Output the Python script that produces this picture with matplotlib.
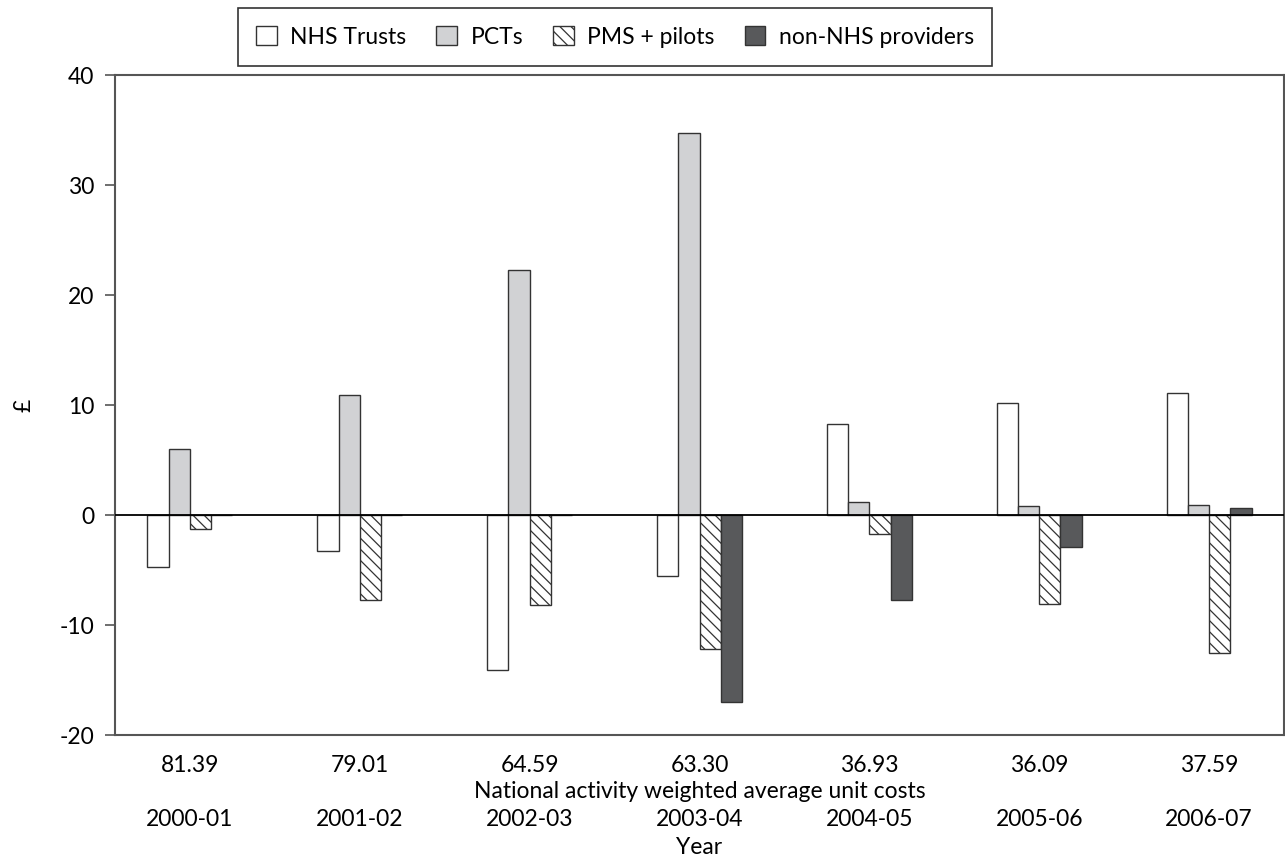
import numpy as np
import matplotlib
matplotlib.use("Agg")
import matplotlib.pyplot as plt
from matplotlib.transforms import blended_transform_factory

plt.rcParams['font.family'] = ['Lato', 'DejaVu Sans']
plt.rcParams['hatch.linewidth'] = 0.9
plt.rcParams['axes.unicode_minus'] = False

years = ["2000-01", "2001-02", "2002-03", "2003-04", "2004-05", "2005-06", "2006-07"]
unit_costs = ["81.39", "79.01", "64.59", "63.30", "36.93", "36.09", "37.59"]

nhs_trusts = [-4.7, -3.25, -14.1, -5.5, 8.3, 10.2, 11.1]
pcts = [6.0, 10.9, 22.3, 34.7, 1.2, 0.8, 0.9]
pms_pilots = [-1.25, -7.7, -8.2, -12.2, -1.75, -8.1, -12.5]
non_nhs = [0, 0, 0, -17.0, -7.7, -2.9, 0.6]

series = ["NHS Trusts", "PCTs", "PMS + pilots", "non-NHS providers"]
values = [nhs_trusts, pcts, pms_pilots, non_nhs]
faces = ["white", "#d1d2d4", "white", "#58595b"]
hatches = [None, None, "\\\\\\", None]

fs = 16.5
fig = plt.figure(figsize=(12.85, 8.67), dpi=100)
ax = fig.add_axes([115/1285, 1-735/867, 1169/1285, 660/867])

x = np.arange(len(years))
w = 0.125
for i, (name, vals) in enumerate(zip(series, values)):
    ax.bar(x + (i - 1.5) * w, vals, width=w, color=faces[i], hatch=hatches[i],
           edgecolor="#333333", linewidth=1.0, label=name, zorder=2)

ax.axhline(0, color="black", linewidth=1.3, zorder=3)
ax.set_xlim(-0.441, 6.441)
ax.set_ylim(-20, 40)
ax.set_yticks([-20, -10, 0, 10, 20, 30, 40])
ax.tick_params(axis='y', labelsize=fs, length=7, width=1.2, color="#555555", pad=8)
ax.set_xticks([])
for s in ax.spines.values():
    s.set_color("#555555")
    s.set_linewidth(1.5)

ax.set_ylabel("£", fontsize=fs, labelpad=18)

tr = blended_transform_factory(ax.transData, fig.transFigure)
for xi, c, yr in zip(x, unit_costs, years):
    ax.text(xi, 1-765/867, c, transform=tr, ha="center", va="center", fontsize=fs)
    ax.text(xi, 1-820/867, yr, transform=tr, ha="center", va="center", fontsize=fs)
ax.text(3, 1-792/867, "National activity weighted average unit costs", transform=tr,
        ha="center", va="center", fontsize=fs)
ax.text(3, 1-848/867, "Year", transform=tr, ha="center", va="center", fontsize=fs)

leg = fig.legend(loc="center", bbox_to_anchor=(615/1285, 1-37/867), ncol=4, fontsize=fs,
                 frameon=True, fancybox=False, edgecolor="black", handlelength=0.9,
                 handleheight=0.9, columnspacing=1.3, borderpad=0.8, handletextpad=0.6)
leg.get_frame().set_linewidth(1.2)

fig.savefig("out.png", dpi=100)
